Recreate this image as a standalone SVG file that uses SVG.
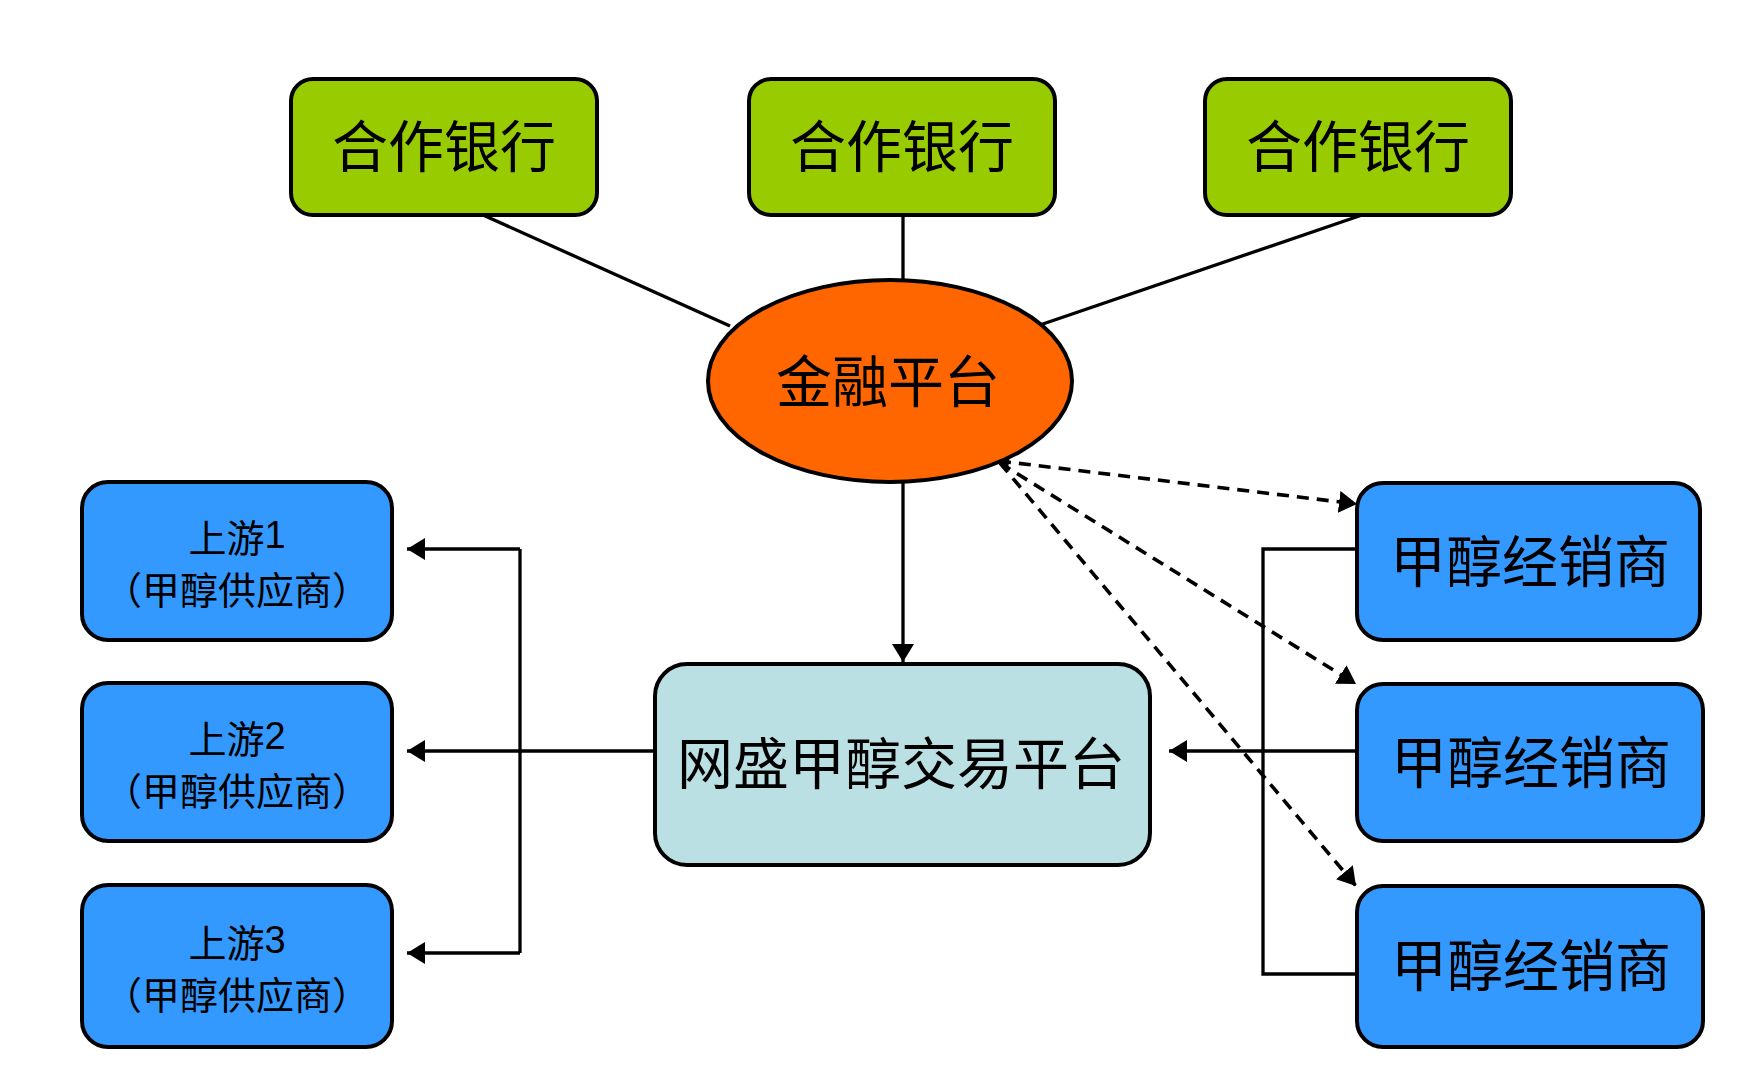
<svg xmlns="http://www.w3.org/2000/svg" width="1755" height="1092" viewBox="0 0 1755 1092">
<style>
.box{stroke:#000;stroke-width:4}
.bank{fill:#99CC00}
.blue{fill:#3399FF}
.lbl{font-family:"Noto Sans CJK SC","Liberation Serif",serif;fill:#000;text-anchor:middle;dominant-baseline:central}
.big{font-size:56px}
.small{font-size:38px}
.num{font-family:"Liberation Sans",Arial,sans-serif}
.ln{stroke:#000;stroke-width:3.3;fill:none}
.dash{stroke:#000;stroke-width:3.6;fill:none;stroke-dasharray:12 8}
</style>
<defs>
<marker id="ah" markerUnits="userSpaceOnUse" markerWidth="20" markerHeight="24" refX="18" refY="11" orient="auto">
<path d="M0,0 L18,11 L0,22 Z" fill="#000"/>
</marker>
<marker id="as" markerUnits="userSpaceOnUse" markerWidth="12" markerHeight="12" refX="1" refY="5" orient="auto">
<path d="M11,0 L0,5 L11,10 Z" fill="#000"/>
</marker>
</defs>
<rect width="1755" height="1092" fill="#fff"/>
<g id="connectors">
<line class="ln" x1="483" y1="215" x2="730" y2="326"/>
<line class="ln" x1="903" y1="215" x2="903" y2="281"/>
<line class="ln" x1="1362" y1="215" x2="1037" y2="326"/>
<line class="ln" x1="903" y1="482" x2="903" y2="662" marker-end="url(#ah)"/>
<line class="ln" x1="655" y1="751" x2="407" y2="751" marker-end="url(#ah)"/>
<polyline class="ln" points="520,549 520,953"/>
<line class="ln" x1="520" y1="549" x2="407" y2="549" marker-end="url(#ah)"/>
<line class="ln" x1="520" y1="953" x2="407" y2="953" marker-end="url(#ah)"/>
<polyline class="ln" points="1357,549 1263,549 1263,974 1357,974"/>
<line class="ln" x1="1357" y1="751" x2="1169" y2="751" marker-end="url(#ah)"/>
<line class="dash" x1="999" y1="461" x2="1357" y2="504" marker-start="url(#as)" marker-end="url(#ah)"/>
<line class="dash" x1="1000" y1="463" x2="1356" y2="684" marker-end="url(#ah)"/>
<line class="dash" x1="1000" y1="463" x2="1356" y2="886" marker-end="url(#ah)"/>
</g>
<g id="bank1"><rect class="box bank" x="291" y="79" width="306" height="136" rx="22"/><text class="lbl big" x="444" y="142">合作银行</text></g>
<g id="bank2"><rect class="box bank" x="749" y="79" width="306" height="136" rx="22"/><text class="lbl big" x="902" y="142">合作银行</text></g>
<g id="bank3"><rect class="box bank" x="1205" y="79" width="306" height="136" rx="22"/><text class="lbl big" x="1358" y="142">合作银行</text></g>
<g id="finance"><ellipse class="box" cx="890" cy="381" rx="182" ry="101" fill="#FF6600"/><text class="lbl big" x="888" y="377">金融平台</text></g>
<g id="platform"><rect class="box" x="655" y="664" width="495" height="201" rx="32" fill="#BBE0E3"/><text class="lbl big" x="901" y="759">网盛甲醇交易平台</text></g>
<g id="up1"><rect class="box blue" x="82" y="482" width="310" height="158" rx="26"/><text class="lbl small" x="237" y="535">上游<tspan class="num">1</tspan></text><text class="lbl small" x="237" y="587">（甲醇供应商）</text></g>
<g id="up2"><rect class="box blue" x="82" y="683" width="310" height="158" rx="26"/><text class="lbl small" x="237" y="736">上游<tspan class="num">2</tspan></text><text class="lbl small" x="237" y="788">（甲醇供应商）</text></g>
<g id="up3"><rect class="box blue" x="82" y="885" width="310" height="162" rx="26"/><text class="lbl small" x="237" y="940">上游<tspan class="num">3</tspan></text><text class="lbl small" x="237" y="992">（甲醇供应商）</text></g>
<g id="dist1"><rect class="box blue" x="1357" y="483" width="343" height="157" rx="26"/><text class="lbl big" x="1530" y="557">甲醇经销商</text></g>
<g id="dist2"><rect class="box blue" x="1357" y="684" width="346" height="157" rx="26"/><text class="lbl big" x="1531" y="758">甲醇经销商</text></g>
<g id="dist3"><rect class="box blue" x="1357" y="886" width="346" height="161" rx="26"/><text class="lbl big" x="1531" y="961">甲醇经销商</text></g>
</svg>
